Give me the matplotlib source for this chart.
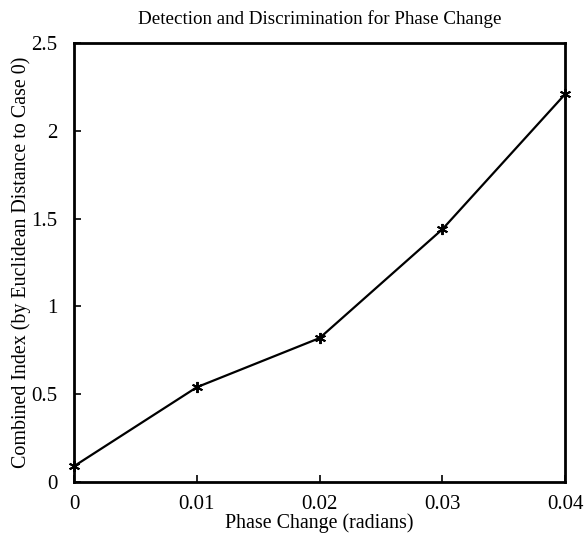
import matplotlib
matplotlib.use('Agg')
import matplotlib.pyplot as plt

plt.rcParams['font.family'] = ['Liberation Serif', 'DejaVu Serif']

# --- data ---
phase = [0, 0.01, 0.02, 0.03, 0.04]
index = [0.09, 0.54, 0.82, 1.44, 2.21]

xticks = [0, 0.01, 0.02, 0.03, 0.04]
xticklabels = ['0', '0.01', '0.02', '0.03', '0.04']
yticks = [0, 0.5, 1, 1.5, 2, 2.5]
yticklabels = ['0', '0.5', '1', '1.5', '2', '2.5']

fig = plt.figure(figsize=(5.87, 5.38), dpi=100)
ax = fig.add_axes([0.126, 0.104, 0.837, 0.816])

ax.plot(phase, index, 'k-', lw=1.6, marker=(6, 2, 0), markersize=8,
        markeredgewidth=1.4, clip_on=False)

ax.set_xlim(0, 0.04)
ax.set_ylim(0, 2.5)
ax.set_xticks(xticks)
ax.set_xticklabels(xticklabels)
ax.set_yticks(yticks)
ax.set_yticklabels(yticklabels)
ax.tick_params(direction='in', length=5, width=1.2, labelsize=15)
ax.tick_params(axis='x', pad=9)
ax.tick_params(axis='y', pad=12)
for s in ax.spines.values():
    s.set_linewidth(2)

ax.set_title('Detection and Discrimination for Phase Change', fontsize=13.7, pad=14)
ax.set_xlabel('Phase Change (radians)', fontsize=14.4, labelpad=0)
ax.set_ylabel('Combined Index (by Euclidean Distance to Case 0)', fontsize=14.4, labelpad=0)

fig.savefig('out.png', dpi=100)
